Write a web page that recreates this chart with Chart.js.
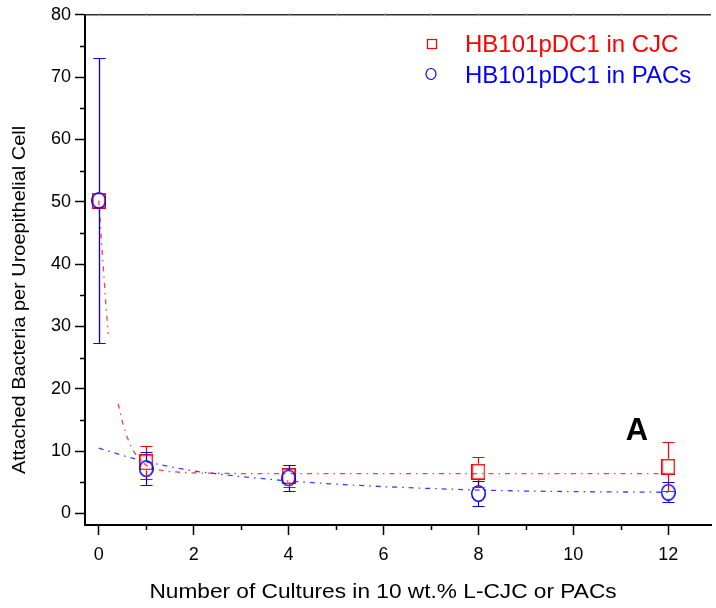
<!DOCTYPE html>
<html><head><meta charset="utf-8">
<script src="https://cdn.jsdelivr.net/npm/chart.js@4.4.1/dist/chart.umd.min.js"></script>
<style>html,body{margin:0;padding:0;background:#fff;overflow:hidden}#wrap{width:716px;height:608px;position:relative}</style>
</head><body><div id="wrap"><canvas id="c" width="716" height="608"></canvas></div>
<script>
// ---- data ----
const cultures = [0, 1, 4, 8, 12];
const cjcMean = [50.2, 8.2, 6.0, 6.7, 7.5];
const cjcErr  = [22.9, 2.7, 1.7, 2.4, 3.9];
const pacMean = [50.2, 7.2, 5.7, 3.2, 3.4];
const pacErr  = [22.9, 2.7, 2.1, 2.0, 1.6];
const cjcFitX = [0, 0.05, 0.1, 0.15, 0.2, 0.3, 0.41, 0.5, 0.6, 0.7, 0.8, 1, 1.25, 1.5, 2, 3, 4, 6, 8, 10, 12];
const cjcFitY = [50.2, 44.5, 39, 33.5, 28.8, null, 17.6, 14.6, 12.2, 10.4, 9.2, 7.7, 7.0, 6.7, 6.5, 6.4, 6.4, 6.4, 6.4, 6.4, 6.4];
const pacFitX = [0, 0.5, 1, 1.5, 2, 3, 4, 5, 6, 7, 8, 9, 10, 11, 12];
const pacFitY = [10.5, 9.3, 8.3, 7.5, 6.8, 5.9, 5.2, 4.7, 4.3, 4.0, 3.75, 3.6, 3.5, 3.45, 3.4];
const yMajorTicks = [0, 10, 20, 30, 40, 50, 60, 70, 80];
const yMinorTicks = [5, 15, 25, 35, 45, 55, 65, 75];
const xMajorTicks = [0, 2, 4, 6, 8, 10, 12];
const xMinorTicks = [1, 3, 5, 7, 9, 11];
const topTicks = [0, 1, 2, 3, 4, 5, 6, 7, 8, 9, 10, 11, 12];
const seriesNames = ['HB101pDC1 in CJC', 'HB101pDC1 in PACs'];
const xTitle = 'Number of Cultures in 10 wt.% L-CJC or PACs';
const yTitle = 'Attached Bacteria per Uroepithelial Cell';
const panelLabel = 'A';

const RED = '#ff0000', BLUE = '#0000ff';
const FONT = '"Liberation Sans", Arial, sans-serif';

function rectMarker(w, h, color, lw) {
  const c = document.createElement('canvas'); c.width = w; c.height = h;
  const g = c.getContext('2d'); g.strokeStyle = color; g.lineWidth = lw;
  g.strokeRect(lw / 2, lw / 2, w - lw, h - lw); return c;
}
function ellMarker(w, h, color, lw) {
  const c = document.createElement('canvas'); c.width = w; c.height = h;
  const g = c.getContext('2d'); g.strokeStyle = color; g.lineWidth = lw;
  g.beginPath(); g.ellipse(w / 2, h / 2, w / 2 - lw / 2, h / 2 - lw / 2, 0, 0, Math.PI * 2); g.stroke(); return c;
}
const sqMark = rectMarker(14, 16, RED, 1.5);
const ciMark = ellMarker(15, 17, BLUE, 1.5);

const errPlugin = {
  id: 'errbars',
  afterDatasetsDraw(chart) {
    const { ctx, scales: { x, y } } = chart;
    const draw = (means, errs, color, halfH) => {
      ctx.save(); ctx.strokeStyle = color; ctx.lineWidth = 1.2; ctx.beginPath();
      means.forEach((m, i) => {
        const px = Math.round(x.getPixelForValue(cultures[i])) + 0.5;
        const py = y.getPixelForValue(m);
        const top = Math.round(y.getPixelForValue(m + errs[i])) + 0.5;
        const bot = Math.round(y.getPixelForValue(m - errs[i])) + 0.5;
        if (top < py - halfH) { ctx.moveTo(px, py - halfH); ctx.lineTo(px, top); }
        if (bot > py + halfH) { ctx.moveTo(px, py + halfH); ctx.lineTo(px, bot); }
        ctx.moveTo(px - 6, top); ctx.lineTo(px + 6, top);
        ctx.moveTo(px - 6, bot); ctx.lineTo(px + 6, bot);
      });
      ctx.stroke(); ctx.restore();
    };
    draw(cjcMean, cjcErr, RED, 8);
    draw(pacMean, pacErr, BLUE, 8.5);
  }
};

const decorPlugin = {
  id: 'decor',
  afterDraw(chart) {
    const { ctx, chartArea: a, scales: { x, y } } = chart;
    ctx.save();
    // minor ticks
    ctx.strokeStyle = '#000'; ctx.lineWidth = 1.5; ctx.beginPath();
    yMinorTicks.forEach(v => { const p = Math.round(y.getPixelForValue(v)) + 0.5; ctx.moveTo(a.left - 5, p); ctx.lineTo(a.left, p); });
    xMinorTicks.forEach(v => { const p = Math.round(x.getPixelForValue(v)) + 0.5; ctx.moveTo(p, a.bottom); ctx.lineTo(p, a.bottom + 5); });
    ctx.stroke();
    // top frame line
    ctx.strokeStyle = '#333'; ctx.lineWidth = 1.5; ctx.beginPath();
    ctx.moveTo(a.left, a.top); ctx.lineTo(a.right, a.top); ctx.stroke();
    ctx.strokeStyle = '#999'; ctx.lineWidth = 1; ctx.beginPath();
    topTicks.forEach(v => { const p = Math.round(x.getPixelForValue(v)) + 0.5; ctx.moveTo(p, a.top - 1.5); ctx.lineTo(p, a.top + 1.5); });
    ctx.stroke();
    // axis titles
    ctx.fillStyle = '#000'; ctx.textAlign = 'center'; ctx.textBaseline = 'middle';
    ctx.font = '21px ' + FONT;
    ctx.save(); ctx.translate(383, 592); ctx.scale(1.08, 1); ctx.fillText(xTitle, 0, 0); ctx.restore();
    ctx.save(); ctx.translate(20, 300); ctx.rotate(-Math.PI / 2); ctx.font = '19px ' + FONT; ctx.scale(1.05, 1); ctx.fillText(yTitle, 0, 0); ctx.restore();
    // panel label
    ctx.font = 'bold 31px ' + FONT; ctx.fillText(panelLabel, 637, 431);
    // legend
    ctx.textAlign = 'left';
    ctx.lineWidth = 1.2;
    ctx.strokeStyle = RED; ctx.strokeRect(427.5, 39.5, 9, 9);
    ctx.strokeStyle = BLUE; ctx.beginPath(); ctx.ellipse(431, 74, 5, 5.5, 0, 0, Math.PI * 2); ctx.stroke();
    ctx.font = '24px ' + FONT;
    ctx.fillStyle = RED; ctx.fillText(seriesNames[0], 465, 45);
    ctx.fillStyle = BLUE; ctx.fillText(seriesNames[1], 465, 76);
    ctx.restore();
  }
};

new Chart(document.getElementById('c'), {
  type: 'scatter',
  data: {
    datasets: [
      { label: seriesNames[1], data: cultures.map((c, i) => ({ x: c, y: pacMean[i] })), pointStyle: ciMark, showLine: false },
      { label: seriesNames[0], data: cultures.map((c, i) => ({ x: c, y: cjcMean[i] })), pointStyle: sqMark, showLine: false },
      { label: 'PACs fit', data: pacFitX.map((v, i) => ({ x: v, y: pacFitY[i] })), showLine: true, pointRadius: 0,
        borderColor: 'rgba(40,40,255,0.9)', borderWidth: 1.3, borderDash: [5, 5, 1.5, 5], spanGaps: false },
      { label: 'CJC fit', data: cjcFitX.map((v, i) => ({ x: v, y: cjcFitY[i] })), showLine: true, pointRadius: 0,
        borderColor: 'rgba(255,40,40,0.9)', borderWidth: 1.3, borderDash: [5, 5, 1.5, 5], spanGaps: false }
    ]
  },
  options: {
    responsive: false, animation: false, devicePixelRatio: 1,
    layout: { padding: { top: 13, left: 0, right: 0, bottom: 0 } },
    plugins: { legend: { display: false }, tooltip: { enabled: false } },
    scales: {
      x: {
        type: 'linear', min: -0.29, max: 12.9,
        afterBuildTicks: s => { s.ticks = xMajorTicks.map(v => ({ value: v })); },
        afterFit: s => { s.height = 83; },
        ticks: { callback: v => String(v), color: '#000', font: { size: 18, family: FONT }, padding: 9, maxRotation: 0 },
        grid: { drawOnChartArea: false, drawTicks: true, tickLength: 10, tickWidth: 1.5, tickColor: '#000' },
        border: { display: true, color: '#000', width: 2 }
      },
      y: {
        type: 'linear', min: -1.85, max: 80,
        afterBuildTicks: s => { s.ticks = yMajorTicks.map(v => ({ value: v })); },
        afterFit: s => { s.width = 85; },
        ticks: { callback: v => String(v), color: '#000', font: { size: 18, family: FONT }, padding: 4 },
        grid: { drawOnChartArea: false, drawTicks: true, tickLength: 10, tickWidth: 1.5, tickColor: '#000' },
        border: { display: true, color: '#000', width: 2 }
      }
    }
  },
  plugins: [errPlugin, decorPlugin]
});
</script></body></html>
